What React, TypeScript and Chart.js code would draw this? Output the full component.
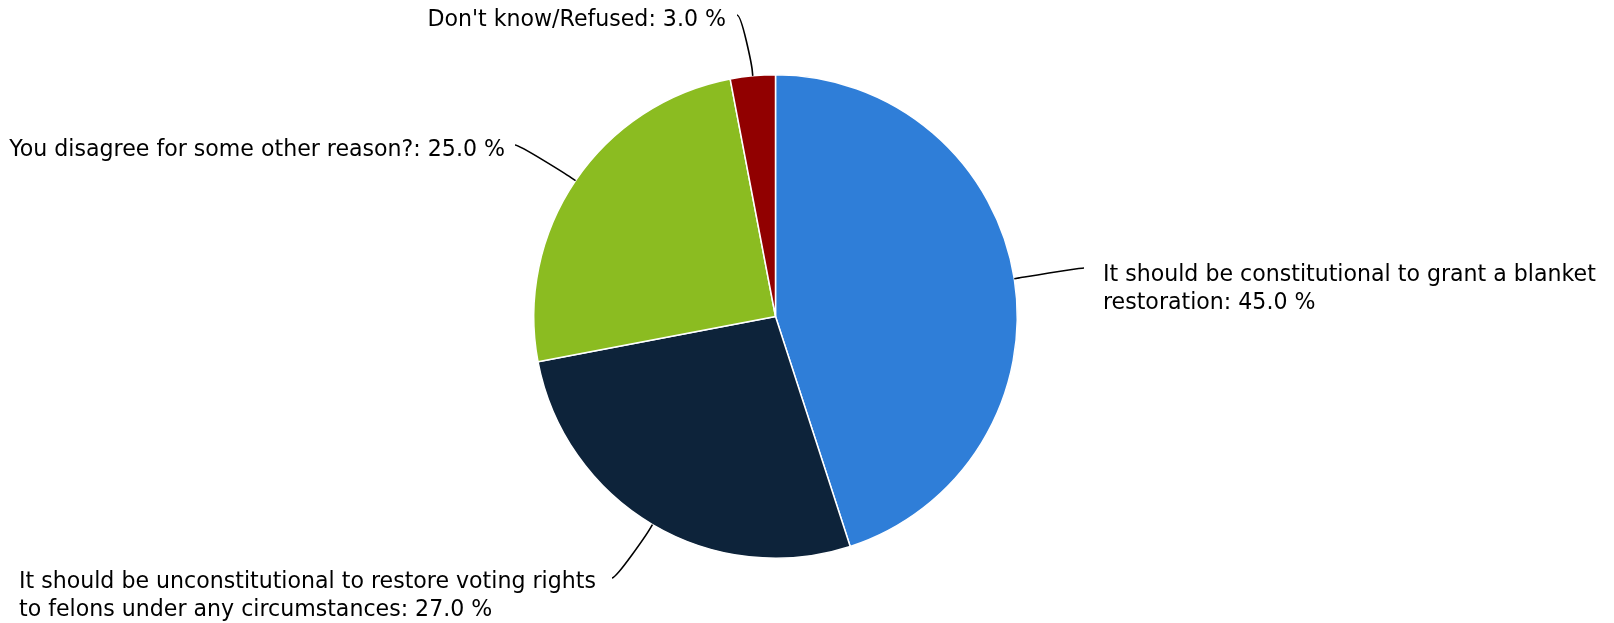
import React, { useEffect, useRef } from "react";
import { Chart, registerables } from "chart.js";

Chart.register(...registerables);

const categories: string[] = [
  "It should be constitutional to grant a blanket restoration",
  "It should be unconstitutional to restore voting rights to felons under any circumstances",
  "You disagree for some other reason?",
  "Don't know/Refused",
];
const values: number[] = [45.0, 27.0, 25.0, 3.0];
const colors: string[] = ["#2f7ed8", "#0d233a", "#8bbc21", "#910000"];

// Label layout (annotation placement only): connector start point, text anchor, alignment, wrap width
const labelLayout = [
  { sx: 1084, sy: 268, tx: 1103, ty: 281, align: "left", wrap: 505, dir: -1 },
  { sx: 612, sy: 578, tx: 19, ty: 588, align: "left", wrap: 596, dir: 1 },
  { sx: 515, sy: 145, tx: 505, ty: 156, align: "right", wrap: 700, dir: 1 },
  { sx: 737, sy: 15, tx: 726, ty: 26, align: "right", wrap: 700, dir: 1 },
];

const FONT = '22.1px "DejaVu Sans"';
const LINE_HEIGHT = 28;

function wrapText(ctx: CanvasRenderingContext2D, text: string, maxW: number): string[] {
  const words = text.split(" ");
  const lines: string[] = [];
  let cur = "";
  for (const w of words) {
    const test = cur ? cur + " " + w : w;
    if (cur && ctx.measureText(test).width > maxW) {
      lines.push(cur);
      cur = w;
    } else {
      cur = test;
    }
  }
  if (cur) lines.push(cur);
  return lines;
}

const labelPlugin = {
  id: "pieLabels",
  afterDatasetsDraw(chart: any) {
    const ctx: CanvasRenderingContext2D = chart.ctx;
    const meta = chart.getDatasetMeta(0);
    ctx.save();
    ctx.font = FONT;
    ctx.fillStyle = "#000000";
    ctx.strokeStyle = "#000000";
    ctx.lineWidth = 1.6;
    ctx.textBaseline = "alphabetic";
    meta.data.forEach((arc: any, i: number) => {
      const p = arc.getProps(["x", "y", "outerRadius", "startAngle", "endAngle"], true);
      const mid = (p.startAngle + p.endAngle) / 2;
      const ux = Math.cos(mid);
      const uy = Math.sin(mid);
      const r = p.outerRadius;
      const ex = p.x + ux * r;
      const ey = p.y + uy * r;
      const bx = p.x + ux * (r + 5);
      const by = p.y + uy * (r + 5);
      const L = labelLayout[i];
      ctx.beginPath();
      ctx.moveTo(L.sx, L.sy);
      ctx.bezierCurveTo(L.sx + L.dir * 5, L.sy, 2 * bx - ex, 2 * by - ey, bx, by);
      ctx.lineTo(ex, ey);
      ctx.stroke();

      const text = `${categories[i]}: ${values[i].toFixed(1)} %`;
      const lines = wrapText(ctx, text, L.wrap);
      ctx.textAlign = L.align as CanvasTextAlign;
      lines.forEach((line, k) => {
        ctx.fillText(line, L.tx, L.ty + k * LINE_HEIGHT);
      });
    });
    ctx.restore();
  },
};

export default function App() {
  const ref = useRef<HTMLCanvasElement>(null);
  useEffect(() => {
    const chart = new Chart(ref.current as HTMLCanvasElement, {
      type: "pie",
      data: {
        labels: categories,
        datasets: [
          {
            data: values,
            backgroundColor: colors,
            borderColor: "#ffffff",
            borderWidth: 1.5,
          },
        ],
      },
      options: {
        responsive: false,
        animation: false,
        events: [],
        layout: { padding: { left: 533, right: 596, top: 74, bottom: 64 } },
        plugins: {
          legend: { display: false },
          tooltip: { enabled: false },
        },
      },
      plugins: [labelPlugin],
    } as any);
    return () => chart.destroy();
  }, []);
  return (
    <div style={{ position: "fixed", left: 0, top: 0, width: 1614, height: 623, background: "#ffffff" }}>
      <canvas ref={ref} width={1614} height={623} style={{ display: "block", width: 1614, height: 623 }} />
    </div>
  );
}
